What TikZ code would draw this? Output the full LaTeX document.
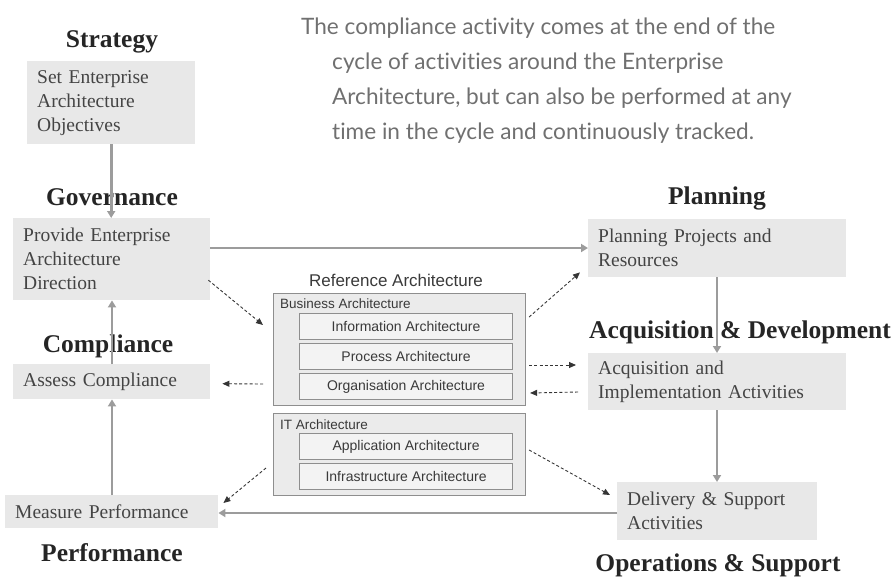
\documentclass[tikz,border=0pt]{standalone}
\usepackage{fontspec}
\setmainfont{Liberation Serif}
\setsansfont{Liberation Sans}
\newfontfamily\notefont[Ligatures=NoCommon]{Lato}
\usetikzlibrary{arrows.meta,calc}

\definecolor{boxfill}{HTML}{E8E8E8}
\definecolor{boxtext}{HTML}{444444}
\definecolor{titletext}{HTML}{252525}
\definecolor{flowgray}{HTML}{9C9C9C}
\definecolor{dashgray}{HTML}{353535}
\definecolor{notegray}{HTML}{707070}
\definecolor{archfill}{HTML}{EBEBEB}
\definecolor{archline}{HTML}{8E8E8E}
\definecolor{archtext}{HTML}{3A3A3A}

\tikzset{
  actbox/.style={fill=boxfill, draw=none, anchor=north west, inner xsep=10pt,
    inner ysep=0pt, align=left, text=boxtext,
    font=\fontsize{19.5}{24}\selectfont},
  phase/.style={font=\bfseries\fontsize{25.5}{28}\selectfont, text=titletext},
  flow/.style={draw=flowgray, line width=2.6pt,
    -{Triangle[length=7pt,width=8pt]}},
  dashlink/.style={draw=dashgray, line width=0.9pt, dash pattern=on 3pt off 2.2pt,
    -{Triangle[length=7pt,width=6pt]}},
  archouter/.style={fill=archfill, draw=archline, line width=1.1pt,
    anchor=north west, inner sep=0pt},
  archinner/.style={fill=archfill!60!white, draw=archline, line width=1.1pt,
    anchor=north west, inner sep=0pt, text=archtext,
    font=\sffamily\fontsize{14}{16}\selectfont},
  archlabel/.style={anchor=west, inner sep=0pt, text=archtext,
    font=\sffamily\fontsize{13.5}{16}\selectfont},
}

\begin{document}
\begin{tikzpicture}[x=1pt,y=-1pt]
\useasboundingbox (0,0) rectangle (896,576);

% explanatory note
\node[anchor=north west, inner sep=0pt, align=left, text=notegray,
      font=\notefont\fontsize{22.6}{35}\selectfont] (note) at (301,18)
  {The compliance activity comes at the end of the\\
   \hspace*{31pt}cycle of activities around the Enterprise\\
   \hspace*{31pt}Architecture, but can also be performed at any\\
   \hspace*{31pt}time in the cycle and continuously tracked.};

% activity boxes
\node[actbox, minimum width=168, minimum height=83, text width=148] (strat) at (27,61)
  {Set Enterprise\\Architecture\\Objectives};
\node[actbox, minimum width=197, minimum height=82, text width=177] (gov) at (13,218)
  {Provide Enterprise\\Architecture\\Direction};
\node[actbox, minimum width=197, minimum height=35, text width=177] (assess) at (13,364)
  {Assess Compliance};
\node[actbox, minimum width=213, minimum height=33, text width=193] (meas) at (5,495)
  {Measure Performance};
\node[actbox, minimum width=258, minimum height=58, text width=238] (plan) at (588,219)
  {Planning Projects and\\Resources};
\node[actbox, minimum width=258, minimum height=57, text width=238] (acq) at (588,353)
  {Acquisition and\\Implementation Activities};
\node[actbox, minimum width=200, minimum height=58, text width=180] (del) at (617,482)
  {Delivery \& Support\\Activities};

% phase titles
\node[phase] (tStrat) at (112,42) {Strategy};
\node[phase] (tGov) at (112,197) {Governance};
\node[phase] (tComp) at (108,346) {Compliance};
\node[phase] (tPerf) at (112,553) {Performance};
\node[phase] (tPlan) at (717,198) {Planning};
\node[phase] (tAcq) at (740,332) {Acquisition \& Development};
\node[phase] (tOps) at (718,565) {Operations \& Support};

% reference architecture
\node[inner sep=0pt, text=archtext, font=\sffamily\fontsize{17}{19}\selectfont]
  (refarch) at (396,280) {Reference Architecture};
\node[archouter, minimum width=252, minimum height=112] (bus) at (273,293) {};
\node[archlabel] (busl) at (280,304) {Business Architecture};
\node[archinner, minimum width=213, minimum height=26] (info) at (299,313) {Information Architecture};
\node[archinner, minimum width=213, minimum height=26] (proc) at (299,343) {Process Architecture};
\node[archinner, minimum width=213, minimum height=26] (org) at (299,373) {Organisation Architecture};
\node[archouter, minimum width=252, minimum height=82] (it) at (273,413) {};
\node[archlabel] (itl) at (280,425) {IT Architecture};
\node[archinner, minimum width=213, minimum height=26] (app) at (299,433) {Application Architecture};
\node[archinner, minimum width=213, minimum height=26] (infra) at (299,463) {Infrastructure Architecture};

% main cycle
\draw[flow] (strat.south) -- (gov.north -| strat.south);
\draw[flow] (gov.east |- 0,248) -- (plan.west |- 0,248);
\draw[flow] (plan.south -| 717,0) -- (acq.north -| 717,0);
\draw[flow] (acq.south -| 717,0) -- (del.north -| 717,0);
\draw[flow] (del.west |- 0,513) -- (meas.east |- 0,513);
\draw[flow] (meas.north -| 112,0) -- (assess.south -| 112,0);
\draw[flow] (assess.north -| 112,0) -- (gov.south -| 112,0);

% links with the reference architecture
\draw[dashlink] ($(gov.east)+(-2,21)$) -- ($(bus.north west)+(-10,32)$);
\draw[dashlink] ($(bus.north east)+(3,24)$) -- ($(plan.south west)+(-8,-5)$);
\draw[dashlink] ($(bus.north east)+(3,72)$) -- ($(acq.north west)+(-12,12)$);
\draw[dashlink] ($(acq.north west)+(-10,39)$) -- ($(bus.north east)+(4,39+61)$);
\draw[dashlink] ($(bus.north west)+(-10,91)$) -- ($(assess.east)+(12,2)$);
\draw[dashlink] ($(it.north west)+(-7,55)$) -- ($(meas.north east)+(5,8)$);
\draw[dashlink] ($(it.north east)+(3,37)$) -- ($(del.north west)+(-7,13)$);
\end{tikzpicture}
\end{document}
